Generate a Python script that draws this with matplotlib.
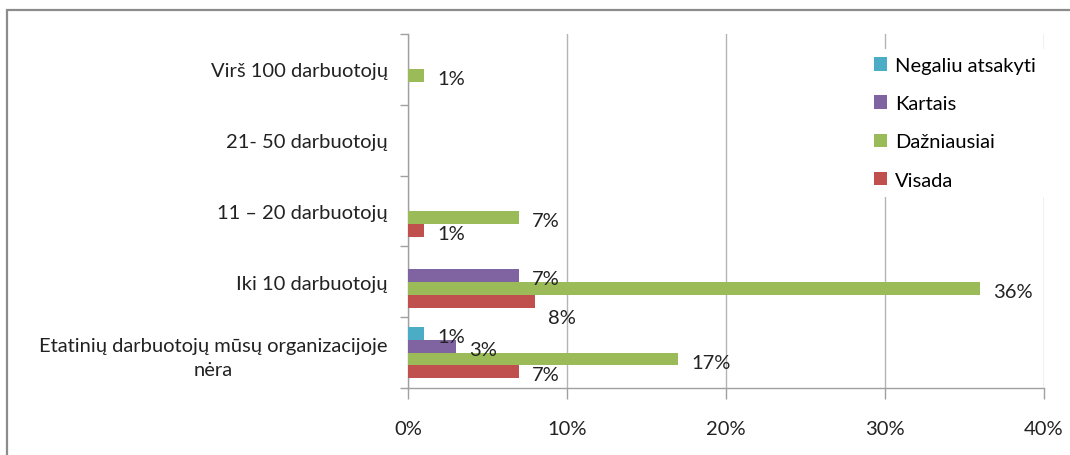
import numpy as np
from matplotlib import pyplot as plt
from matplotlib.patches import Rectangle

plt.rcParams['font.family'] = ['Lato', 'DejaVu Sans']

# duomenys (procentais)
categories = ["Etatinių darbuotojų mūsų organizacijoje\nnėra", "Iki 10 darbuotojų",
              "11 – 20 darbuotojų", "21- 50 darbuotojų", "Virš 100 darbuotojų"]
visada = [7, 8, 1, 0, 0]
dazniausiai = [17, 36, 7, 0, 1]
kartais = [3, 7, 0, 0, 0]
negaliu = [1, 0, 0, 0, 0]

series = [("Visada", visada, '#c0504d'),
          ("Dažniausiai", dazniausiai, '#9bbb59'),
          ("Kartais", kartais, '#8064a2'),
          ("Negaliu atsakyti", negaliu, '#4bacc6')]

W, H = 1070, 456
fs = 14.5
fig = plt.figure(figsize=(W / 100, H / 100), dpi=100)
ax = fig.add_axes([408 / W, 1 - 389 / H, (1044 - 408) / W, (389 - 35) / H])

y = np.arange(len(categories))
h = 1 / 5.5
bars = []
for i, (name, vals, col) in enumerate(series):
    off = (i - 1.5) * h
    b = ax.barh(y + off, vals, height=h, color=col, label=name, zorder=3)
    bars.append(b)
    for yy, v in zip(y, vals):
        if v == 0:
            continue
        dy = -3
        if name == "Visada" and yy == 1:
            dy = -16
        ax.annotate(f"{v}%", (v, yy + off), xytext=(13, dy), textcoords='offset pixels',
                    ha='left', va='center', fontsize=fs, color='#222222')

ax.set_xlim(0, 40)
ax.set_ylim(-0.5, len(categories) - 0.5)
ax.set_xticks([0, 10, 20, 30, 40])
ax.set_xticklabels([f"{t}%" for t in [0, 10, 20, 30, 40]])
ax.set_yticks(y)
ax.set_yticklabels(categories)
ax.set_yticks(np.arange(len(categories) + 1) - 0.5, minor=True)
for lab in ax.get_yticklabels():
    lab.set_multialignment('center')
    lab.set_linespacing(1.5)

ax.tick_params(axis='y', which='major', length=0, pad=14.5, labelsize=fs, labelcolor='#222222')
ax.tick_params(axis='y', which='minor', length=6, width=1, color='#a0a0a0')
ax.tick_params(axis='x', length=8, width=1, color='#a0a0a0', pad=15, labelsize=fs,
               labelcolor='#222222')

ax.grid(axis='x', color='#b4b4b4', linewidth=1, zorder=0)
ax.set_axisbelow(True)
for s in ['top', 'right']:
    ax.spines[s].set_visible(False)
for s in ['left', 'bottom']:
    ax.spines[s].set_color('#a0a0a0')
    ax.spines[s].set_linewidth(1)

handles = bars[::-1]
leg = ax.legend(handles, [s[0] for s in series][::-1], loc='upper left',
                bbox_to_anchor=(856 / W, 1 - 40 / H), bbox_transform=fig.transFigure,
                frameon=True, fancybox=False, edgecolor='none', facecolor='white', framealpha=1,
                fontsize=fs, handlelength=0.65, handleheight=0.65, handletextpad=0.4,
                labelspacing=1.05, borderpad=0.4)

fig.patches.append(Rectangle((7 / W, -0.1), 1.2, 1 - 11 / H + 0.1, transform=fig.transFigure,
                             fill=False, edgecolor='#8c8c8c', linewidth=1.6))

fig.savefig('out.png', dpi=100)
